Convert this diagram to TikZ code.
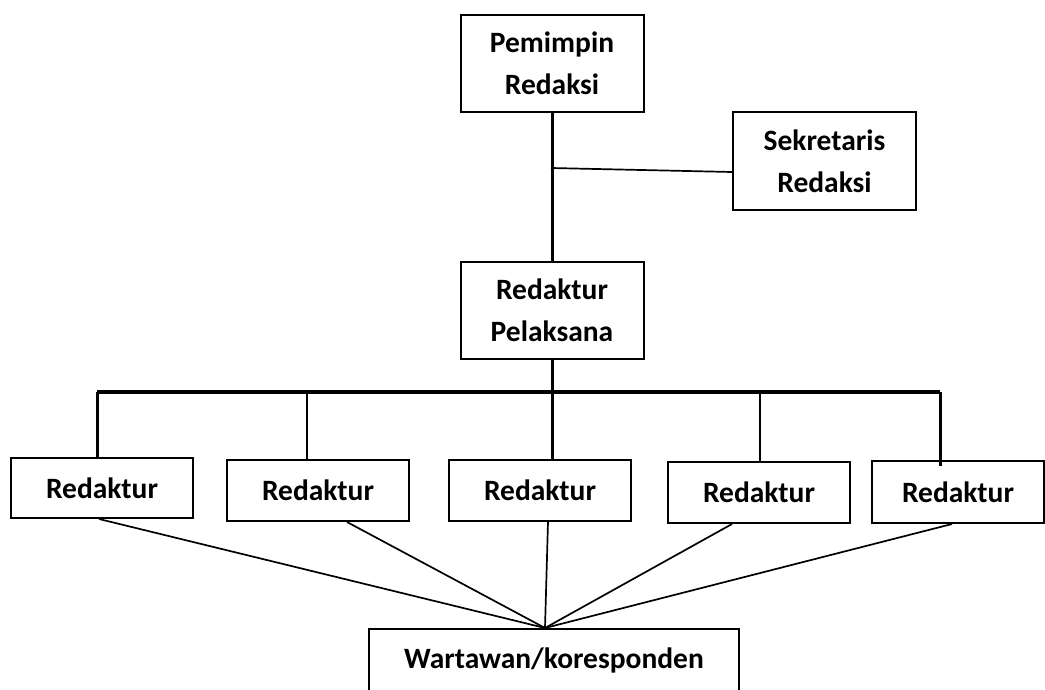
\documentclass[tikz,border=0pt]{standalone}
\usepackage{fontspec}
\setmainfont{Carlito}
\usepackage{tikz}
\usetikzlibrary{calc}

\begin{document}
\begin{tikzpicture}[x=1pt,y=-1pt,
	box/.style={draw,line width=2pt,align=center,font=\fontsize{29.5}{41.7}\selectfont\bfseries,inner sep=0pt},
	thickline/.style={line width=3pt},
	thinline/.style={line width=1.7pt},
	busline/.style={line width=3.6pt}]
			\useasboundingbox (0,0) rectangle (1045,690);
			\node[box,minimum width=183,minimum height=97] (pr) at (552,63.5) {Pemimpin\\Redaksi};
			\node[box,minimum width=183,minimum height=98] (sr) at (824.5,161) {Sekretaris\\Redaksi};
			\node[box,minimum width=183,minimum height=97] (rp) at (552,310.5) {Redaktur\\Pelaksana};
			\node[box,minimum width=182,minimum height=60] (r1) at (102,488) {Redaktur};
			\node[box,minimum width=182,minimum height=61] (r2) at (318,490.5) {Redaktur};
			\node[box,minimum width=182,minimum height=61] (r3) at (540,490.5) {Redaktur};
			\node[box,minimum width=182,minimum height=61] (r4) at (759,492.5) {Redaktur};
			\node[box,minimum width=172,minimum height=62] (r5) at (958,492) {Redaktur};
			\node[box,minimum width=370,anchor=north,text height=29pt,text depth=60pt,inner ysep=10pt] (ww) at (554,628) {Wartawan/koresponden};
			% garis atas
			\coordinate (j) at (551,168);
			\draw[thickline] (pr.south) -- (rp.north);
			\draw[thinline] (j) -- ([yshift=-11pt]sr.west);
			% garis bus
			\coordinate (bl) at (97,392);
			\coordinate (bm2) at (307,392);
			\coordinate (bm4) at (760,392);
			\coordinate (br) at (940,392);
			\draw[busline] (bl) -- (br);
			\draw[thickline] (rp.south) -- (rp.south |- r3.north);
			\draw[thickline] (bl) -- (bl |- r1.north);
			\draw[thinline] (bm2) -- (bm2 |- r2.north);
			\draw[thinline] (bm4) -- (bm4 |- r4.north);
			\draw[thickline] (br) -- ([yshift=-6pt]br |- r5.north);
			% garis ke wartawan
			\coordinate (m) at (545,628);
			\draw[thinline] ([xshift=-3pt]r1.south) -- (m);
			\draw[thinline] ([xshift=29pt]r2.south) -- (m);
			\draw[thinline] ([xshift=8pt]r3.south) -- (m);
			\draw[thinline] ([xshift=-27pt]r4.south) -- (m);
			\draw[thinline] ([xshift=-6pt]r5.south) -- (m);
		\end{tikzpicture}
\end{document}
